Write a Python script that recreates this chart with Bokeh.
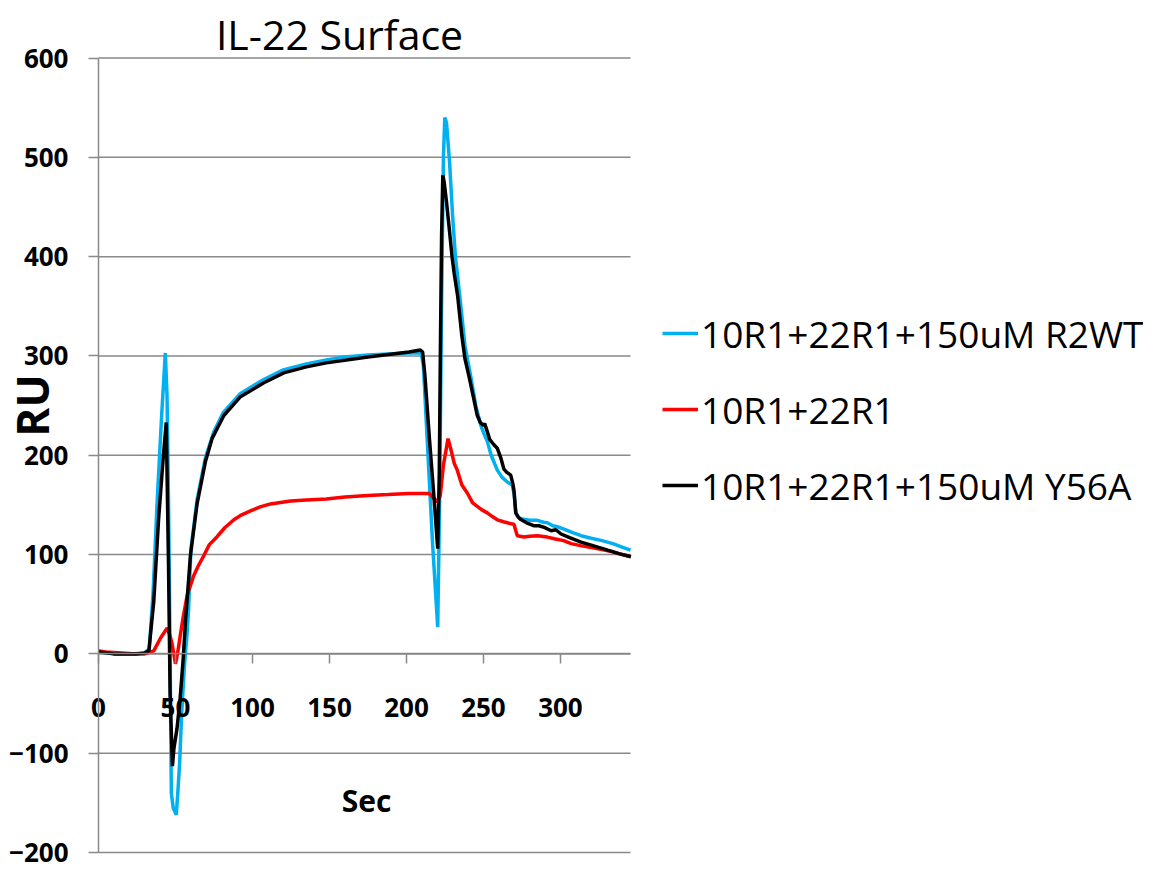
import math
from bokeh.plotting import figure
from bokeh.models import Legend, LegendItem, FixedTicker, Range1d, Label
from bokeh.embed import file_html
from bokeh.resources import INLINE

# ---------------- data ----------------
series_names = ["10R1+22R1+150uM R2WT", "10R1+22R1", "10R1+22R1+150uM Y56A"]
series_colors = ["#00B0F0", "#FF0000", "#000000"]

t_r2wt = [0, 5, 10, 20, 30, 33, 35.4, 38, 41, 43.4, 44.5, 45.5, 46.5, 47.3, 48.5, 50.5, 51.5,
          52.7, 54, 55.8, 57.5, 58.5, 60, 64, 69.5, 75, 81, 92, 107, 120, 135, 148, 160, 175,
          188, 201.6, 209.6, 211, 214, 217, 220.3, 221.5, 222.8, 224, 224.9, 226, 228, 230,
          231.8, 234.6, 238, 241.8, 245, 248.3, 250.5, 252.5, 255, 259, 262, 265.5, 268.7,
          270, 271, 273, 276.3, 280, 285, 289, 291.5, 295, 298, 302.3, 308, 313.4, 320, 327,
          334.5, 340, 345.5]
ru_r2wt = [3, 1, 0, 0, 1, 5, 60, 150, 240, 303, 260, 150, 0, -140, -155, -162, -140,
           -110, -60, -12, 20, 45, 105, 155, 198, 224, 243, 262, 276, 286, 292, 296, 299, 301,
           302, 303, 303, 290, 200, 110, 27, 150, 350, 500, 540, 535, 495, 440,
           400, 361, 310, 279, 250, 230, 221, 214, 200, 185, 178, 173, 170,
           160, 142, 137, 135.5, 134.5, 134.5, 132.5, 132, 129, 128, 125.6, 122, 119, 116.5, 114,
           110.8, 107.5, 104.4]

t_base = [0, 5, 15, 25, 30, 35.9, 40.3, 44.6, 46.5, 47.8, 50, 51.5, 53.2, 55, 57.6, 61.9,
          64.6, 68.4, 72, 77, 82, 87.9, 93, 98.7, 105, 111.7, 124.7, 135, 148, 160, 175, 188,
          201.6, 214.7, 217, 220.3, 222, 224, 227, 229, 231, 233, 236, 239.5, 243, 246, 249,
          252.5, 256, 259, 263, 265.5, 268, 269.8, 271, 272, 276.3, 280, 285, 291.5, 296, 302,
          307, 313, 320, 327, 334.5, 340, 345.5]
ru_base = [3, 2, 1, 0, 0, 3, 16, 26, 18, 10, -10, 2, 19.6, 37, 59, 79,
           88, 99, 110, 118, 127, 135, 140, 144, 148, 151, 154, 155, 156, 158, 159.5, 160.5,
           161.6, 161.6, 158, 153, 160, 190, 216.7, 205, 192, 185, 170, 162, 152, 148.5, 145,
           142, 138, 135, 133, 132, 131, 130.5, 124, 119, 117.6, 118.5, 119, 117.6, 116, 114,
           111, 109, 107, 105, 102.5, 100, 98]

t_y56a = [0, 5, 10, 20, 25, 30, 32.7, 35.9, 39, 42, 44, 45.5, 46.5, 48, 49, 51, 53, 55,
          56.5, 59.7, 64, 69.5, 73.8, 81.4, 92.2, 107.4, 120.3, 135, 148, 175, 201.6, 209,
          210.5, 212, 215, 218, 220.3, 221.3, 222, 222.8, 223.6, 224.5, 226, 228, 229.6, 231,
          233.2, 236, 238, 240.7, 243, 246, 248, 250, 250.8, 252.5, 254, 256.8, 259, 261.2,
          263.3, 265, 267.7, 269, 269.8, 271, 272.5, 274, 278, 283, 286, 289.5, 294, 297,
          300.4, 306, 313.4, 320, 330.7, 338, 345.8]
ru_y56a = [2, 1, 0, 0, 0, 1, 3, 53, 135, 197, 233, 86, -40, -113, -95, -75, -45, -5,
           33, 99, 151, 194, 217, 240, 259, 273, 283, 289, 293, 299, 304, 306,
           304, 280, 215, 155, 106, 180, 300, 420, 482, 475, 455, 425, 400, 383,
           361, 320, 297, 279, 262, 240, 233, 230, 232, 223.8, 216, 210.6, 207, 197.7,
           186, 183, 180, 172, 165, 142, 138, 135.5, 132, 129, 129, 127.3, 124, 125,
           120.7, 117, 112.5, 109.5, 104.4, 101, 97.8]

x_ticks = [0, 50, 100, 150, 200, 250, 300]
y_ticks = [-200, -100, 0, 100, 200, 300, 400, 500, 600]
x_limits = (0, 345.5)
y_limits = (-200, 600)

title_text = "IL-22 Surface"
x_title = "Sec"
y_title = "RU"

# ---------------- figure ----------------
GRAY = "#898989"
FONT = "Open Sans"
W, H = 1143, 870
LEFT, RIGHT, TOP, BOTTOM = 98, 630, 57.5, 852   # plot-area edges on the canvas
# the frame spans the whole canvas so that axes, titles and legend are all drawn inside it
px_x = (RIGHT - LEFT) / (x_limits[1] - x_limits[0])
px_y = (BOTTOM - TOP) / (y_limits[1] - y_limits[0])
x_rng = Range1d(x_limits[0] - LEFT / px_x, x_limits[1] + (W - RIGHT) / px_x)
y_rng = Range1d(y_limits[0] - (H - BOTTOM) / px_y, y_limits[1] + TOP / px_y)

p = figure(width=W, height=H, output_backend="svg", toolbar_location=None,
           x_range=x_rng, y_range=y_rng, min_border=0)
p.title.visible = False
p.outline_line_color = None
p.background_fill_color = "white"
p.xgrid.visible = False
p.ygrid.visible = False

# horizontal gridlines limited to the plot area
p.segment(x0=[x_limits[0]] * len(y_ticks), x1=[x_limits[1]] * len(y_ticks),
          y0=y_ticks, y1=y_ticks, line_color=GRAY, line_width=1.5)

# axes crossing at the origin
p.xaxis.fixed_location = 0
p.yaxis.fixed_location = 0
p.xaxis.bounds = x_limits
p.yaxis.bounds = y_limits
p.xaxis.ticker = FixedTicker(ticks=x_ticks)
p.yaxis.ticker = FixedTicker(ticks=y_ticks)
for ax in (p.xaxis, p.yaxis):
    ax.axis_line_color = GRAY
    ax.axis_line_width = 1.5
    ax.major_tick_line_color = GRAY
    ax.major_tick_line_width = 1.5
    ax.major_tick_out = 10
    ax.major_tick_in = 0
    ax.minor_tick_line_color = None
    ax.major_label_text_font = FONT
    ax.major_label_text_font_style = "bold"
    ax.major_label_text_font_size = "26px"
    ax.major_label_text_color = "black"
p.yaxis.major_label_standoff = 20
p.xaxis.major_label_standoff = 34

# series
r_wt = p.line(t_r2wt, ru_r2wt, line_color=series_colors[0], line_width=3.5)
r_base = p.line(t_base, ru_base, line_color=series_colors[1], line_width=3.5)
r_y56 = p.line(t_y56a, ru_y56a, line_color=series_colors[2], line_width=3.5)

legend = Legend(items=[LegendItem(label=series_names[0], renderers=[r_wt]),
                       LegendItem(label=series_names[1], renderers=[r_base]),
                       LegendItem(label=series_names[2], renderers=[r_y56])],
                location=(662, H - 523), orientation="vertical",
                glyph_width=36, glyph_height=76, label_height=76, spacing=0,
                padding=0, margin=0, label_standoff=3,
                border_line_alpha=0, background_fill_alpha=0,
                label_text_font=FONT, label_text_font_size="37px", label_text_color="black")
p.add_layout(legend, "center")

# titles (screen units, measured from the bottom-left of the canvas)
p.add_layout(Label(x=339, y=H - 33, x_units="screen", y_units="screen", text=title_text,
                   text_align="center", text_baseline="middle", text_font=FONT,
                   text_font_size="41px", text_color="black"))
p.add_layout(Label(x=31, y=H - 405, x_units="screen", y_units="screen", text=y_title,
                   angle=math.pi / 2, text_align="center", text_baseline="middle",
                   text_font=FONT, text_font_size="44px", text_font_style="bold",
                   text_color="black"))
p.add_layout(Label(x=366, y=H - 800, x_units="screen", y_units="screen", text=x_title,
                   text_align="center", text_baseline="middle",
                   text_font=FONT, text_font_size="30px", text_font_style="bold",
                   text_color="black"))

open("out.html", "w").write(file_html(p, INLINE))
